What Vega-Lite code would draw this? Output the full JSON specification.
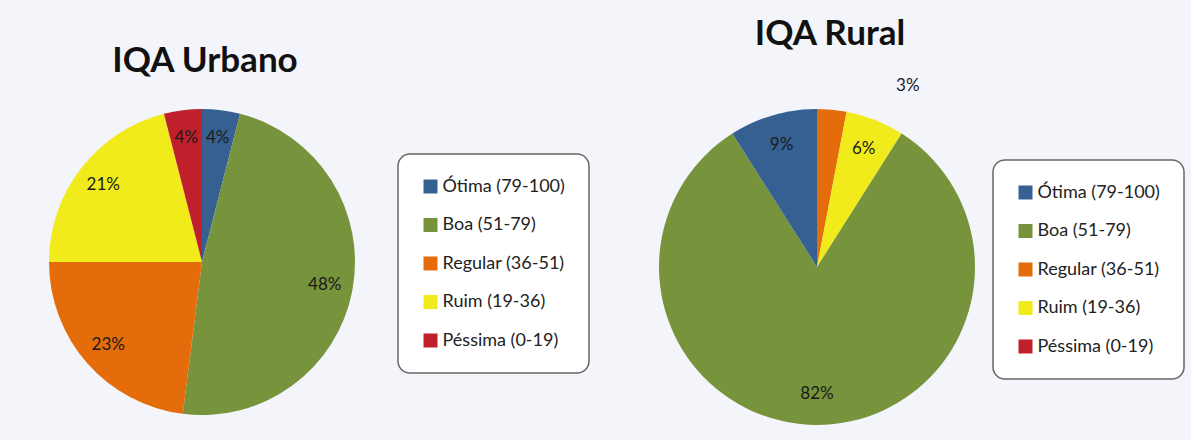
{
  "$schema": "https://vega.github.io/schema/vega-lite/v6.json",
  "background": "#f4f5fa",
  "padding": {"left": 49, "top": 16, "right": 6, "bottom": 15},
  "bounds": "flush",
  "spacing": 304,
  "datasets": {
    "iqa": [
      {"painel": "IQA Urbano", "classe": "Ótima (79-100)", "frac": 0.04, "ordem": 1},
      {"painel": "IQA Urbano", "classe": "Boa (51-79)", "frac": 0.48, "ordem": 2},
      {"painel": "IQA Urbano", "classe": "Regular (36-51)", "frac": 0.23, "ordem": 3},
      {"painel": "IQA Urbano", "classe": "Ruim (19-36)", "frac": 0.21, "ordem": 4},
      {"painel": "IQA Urbano", "classe": "Péssima (0-19)", "frac": 0.04, "ordem": 5},
      {"painel": "IQA Rural", "classe": "Regular (36-51)", "frac": 0.03, "ordem": 1},
      {"painel": "IQA Rural", "classe": "Ruim (19-36)", "frac": 0.06, "ordem": 2},
      {"painel": "IQA Rural", "classe": "Boa (51-79)", "frac": 0.82, "ordem": 3},
      {"painel": "IQA Rural", "classe": "Ótima (79-100)", "frac": 0.09, "ordem": 4},
      {"painel": "IQA Rural", "classe": "Péssima (0-19)", "frac": 0.0, "ordem": 5}
    ]
  },
  "config": {
    "view": {"stroke": null},
    "font": "Lato",
    "title": {"font": "Lato", "fontSize": 35, "fontWeight": "bold", "color": "#111111", "anchor": "middle", "frame": "group"},
    "legend": {
      "fillColor": "white",
      "strokeColor": "#666666",
      "strokeWidth": 1.5,
      "cornerRadius": 12,
      "padding": 23.5,
      "symbolType": "square",
      "symbolSize": 196,
      "symbolStrokeWidth": 0,
      "symbolOpacity": 1,
      "labelFont": "Lato",
      "labelFontSize": 18,
      "labelColor": "#222222",
      "rowPadding": 20.5,
      "labelOffset": 3
    }
  },
  "resolve": {"legend": {"color": "independent"}},
  "hconcat": [
    {
      "width": 306,
      "height": 306,
      "title": {"text": "IQA Urbano", "offset": 30, "dx": 3},
      "data": {"name": "iqa"},
      "transform": [{"filter": "datum.painel === 'IQA Urbano'"}],
      "encoding": {
        "theta": {"field": "frac", "type": "quantitative", "stack": true},
        "order": {"field": "ordem", "type": "quantitative"}
      },
      "layer": [
        {
          "mark": {"type": "arc", "stroke": null},
          "encoding": {
            "color": {
              "field": "classe",
              "type": "nominal",
              "scale": {
                "domain": ["Ótima (79-100)", "Boa (51-79)", "Regular (36-51)", "Ruim (19-36)", "Péssima (0-19)"],
                "range": ["#376092", "#77933c", "#e46c0a", "#f2eb1c", "#c0202b"]
              },
              "legend": {"title": null, "orient": "none", "legendX": 349, "legendY": 45}
            }
          }
        },
        {
          "mark": {"type": "text", "radius": 125, "fontSize": 17, "font": "Lato"},
          "encoding": {
            "text": {"field": "frac", "type": "quantitative", "format": ".0%"},
            "color": {"value": "#1a1a1a"}
          }
        }
      ]
    },
    {
      "width": 316,
      "height": 316,
      "title": {"text": "IQA Rural", "offset": 25, "dx": 13},
      "data": {"name": "iqa"},
      "transform": [{"filter": "datum.painel === 'IQA Rural'"}],
      "encoding": {
        "theta": {"field": "frac", "type": "quantitative", "stack": true},
        "order": {"field": "ordem", "type": "quantitative"}
      },
      "layer": [
        {
          "mark": {"type": "arc", "stroke": null},
          "encoding": {
            "color": {
              "field": "classe",
              "type": "nominal",
              "scale": {
                "domain": ["Ótima (79-100)", "Boa (51-79)", "Regular (36-51)", "Ruim (19-36)", "Péssima (0-19)"],
                "range": ["#376092", "#77933c", "#e46c0a", "#f2eb1c", "#c0202b"]
              },
              "legend": {"title": null, "orient": "none", "legendX": 334, "legendY": 51}
            }
          }
        },
        {
          "mark": {
            "type": "text",
            "radius": {"expr": "datum.frac == 0 ? 0 : (datum.frac < 0.05 ? 200 : 127)"},
            "dx": {"expr": "datum.frac > 0 && datum.frac < 0.05 ? 72 : 0"},
            "dy": {"expr": "datum.frac > 0 && datum.frac < 0.05 ? 18 : 0"},
            "fontSize": 17,
            "font": "Lato"
          },
          "encoding": {
            "text": {"field": "frac", "type": "quantitative", "format": ".0%"},
            "color": {"value": "#1a1a1a"},
            "opacity": {"condition": {"test": "datum.frac > 0", "value": 1}, "value": 0}
          }
        }
      ]
    }
  ]
}
